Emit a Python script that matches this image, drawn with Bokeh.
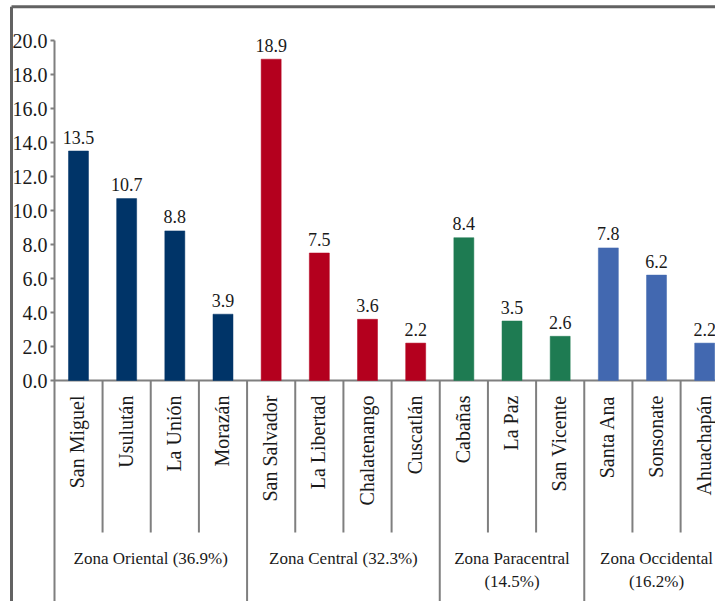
import math
from bokeh.plotting import figure
from bokeh.models import Range1d, LinearAxis, FixedTicker, PrintfTickFormatter, ColumnDataSource
from bokeh.core.properties import value
from bokeh.embed import file_html
from bokeh.resources import INLINE

# ---------------- data ----------------
departments = ["San Miguel", "Usulután", "La Unión", "Morazán",
               "San Salvador", "La Libertad", "Chalatenango", "Cuscatlán",
               "Cabañas", "La Paz", "San Vicente",
               "Santa Ana", "Sonsonate", "Ahuachapán"]
values = [13.5, 10.7, 8.8, 3.9,
          18.9, 7.5, 3.6, 2.2,
          8.4, 3.5, 2.6,
          7.8, 6.2, 2.2]
zones = ["Oriental", "Central", "Paracentral", "Occidental"]
zone_sizes = [4, 4, 3, 3]
zone_labels = ["Zona Oriental (36.9%)", "Zona Central (32.3%)",
               "Zona Paracentral\n(14.5%)", "Zona Occidental\n(16.2%)"]
zone_colors = ["#003468", "#b4001e", "#1e7b52", "#4268b0"]
y_ticks = [0, 2, 4, 6, 8, 10, 12, 14, 16, 18, 20]

# ---------------- layout constants ----------------
W, H = 715, 601
PX_CAT = 48.17      # pixels per category
X0 = 53.9           # canvas x of the value axis
PX_UNIT = 17.0      # pixels per value unit
Y0 = 380.0          # canvas y of value 0
SERIF = value("'Liberation Serif', 'Times New Roman', serif")

x_range = Range1d(-X0 / PX_CAT, (W - X0) / PX_CAT)
y_range = Range1d((Y0 - H) / PX_UNIT, Y0 / PX_UNIT)

p = figure(width=W, height=H, x_range=x_range, y_range=y_range,
           x_axis_type=None, y_axis_type=None,
           toolbar_location=None, output_backend="svg",
           min_border=0, min_border_left=0, min_border_right=0,
           min_border_top=0, min_border_bottom=0)
p.outline_line_color = None
p.background_fill_color = "white"
p.border_fill_color = "white"

# derived structure
colors = []
bounds = [0]
for z, n, c in zip(zones, zone_sizes, zone_colors):
    colors += [c] * n
    bounds.append(bounds[-1] + n)
centers = [i + 0.5 for i in range(len(departments))]
zone_centers = [(bounds[i] + bounds[i + 1]) / 2 for i in range(len(zones))]

src = ColumnDataSource(dict(x=centers, top=values, color=colors,
                            lab=["%.1f" % v for v in values],
                            dept=departments))

GRAY = "#7f7f7f"
ybot = y_range.start

# outer frame (left and top)
left_x = (11.0 - X0) / PX_CAT
top_y = (Y0 - 6.2) / PX_UNIT
p.segment(x0=[left_x, left_x], y0=[ybot, top_y], x1=[left_x, x_range.end], y1=[top_y, top_y],
          line_color="#626262", line_width=3)

# category dividers
short_bottom = (Y0 - 532.0) / PX_UNIT
sx, sy0, sy1 = [], [], []
for k in range(1, len(departments)):
    sx.append(k)
    sy0.append(0)
    sy1.append(ybot if k in bounds else short_bottom)
p.segment(x0=sx, y0=sy0, x1=sx, y1=sy1, line_color=GRAY, line_width=2)

# horizontal baseline
p.segment(x0=[0], y0=[0], x1=[x_range.end], y1=[0], line_color=GRAY, line_width=2)

# bars
p.vbar(x="x", top="top", bottom=0, width=20.0 / PX_CAT, source=src,
       fill_color="color", line_color="color", line_width=0.5)

# value labels
p.text(x="x", y="top", text="lab", source=src, y_offset=-14,
       text_align="center", text_baseline="alphabetic",
       text_font=SERIF, text_font_size="18px", text_color="#1a1a1a")

# rotated department labels
p.text(x="x", y=0, text="dept", source=src, angle=math.pi / 2, y_offset=15, x_offset=-1,
       text_align="right", text_baseline="middle",
       text_font=SERIF, text_font_size="20px", text_color="#1a1a1a")

# zone labels
zsrc = ColumnDataSource(dict(x=zone_centers, lab=zone_labels))
p.text(x="x", y=0, text="lab", source=zsrc, y_offset=168,
       text_align="center", text_baseline="top", text_line_height=1.25,
       text_font=SERIF, text_font_size="17px", text_color="#1a1a1a")

# value axis
yaxis = LinearAxis(fixed_location=0, ticker=FixedTicker(ticks=y_ticks),
                   formatter=PrintfTickFormatter(format="%.1f"),
                   bounds=(ybot, 20))
yaxis.axis_line_color = GRAY
yaxis.axis_line_width = 2
yaxis.major_tick_line_color = GRAY
yaxis.major_tick_line_width = 2
yaxis.major_tick_in = 0
yaxis.major_tick_out = 4
yaxis.minor_tick_line_color = None
yaxis.major_label_standoff = 3
yaxis.major_label_text_font = "'Liberation Serif', 'Times New Roman', serif"
yaxis.major_label_text_font_size = "20px"
yaxis.major_label_text_color = "#1a1a1a"
p.add_layout(yaxis, "left")

open("out.html", "w").write(file_html(p, INLINE))
